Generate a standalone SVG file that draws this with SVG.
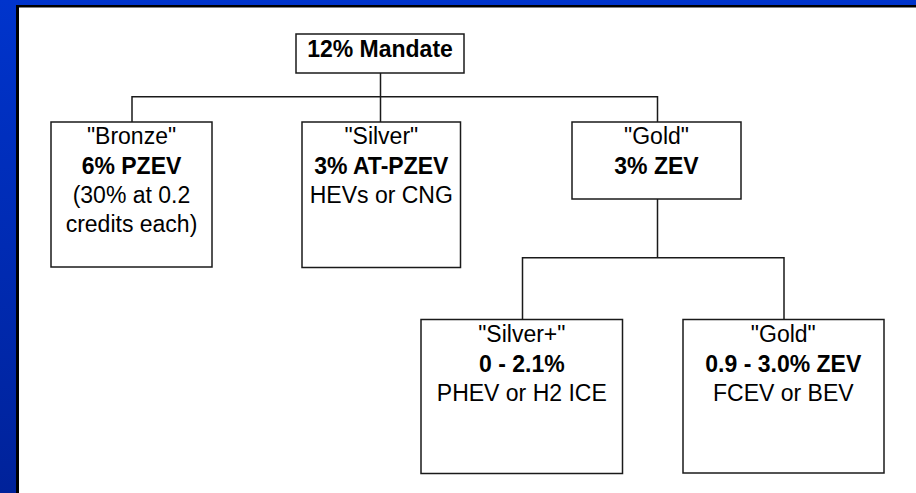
<svg xmlns="http://www.w3.org/2000/svg" width="916" height="493" viewBox="0 0 916 493">
<defs>
<linearGradient id="bg" x1="0" y1="0" x2="0" y2="1">
<stop offset="0" stop-color="#0034CC"/>
<stop offset="1" stop-color="#00229A"/>
</linearGradient>
</defs>
<style>
.box{fill:#fff;stroke:#1a1a1a;stroke-width:1.5}
.ln{fill:none;stroke:#1a1a1a;stroke-width:1.5}
text{font-family:"Liberation Sans",Arial,sans-serif;font-size:23px;fill:#000;text-anchor:middle}
.b{font-weight:bold}
</style>
<rect x="0" y="0" width="916" height="493" fill="url(#bg)"/>
<rect x="16" y="5" width="900" height="488" fill="#000"/>
<rect x="19" y="7.5" width="897" height="485.5" fill="#fff"/>
<g id="connectors">
<path class="ln" d="M380.5 73 V122 M132 122 V96.7 H657.5 V122 M657.5 199 V257.7 M522.5 319.5 V257.7 H784 V319.5"/>
</g>
<g id="mandate">
<rect class="box" x="296" y="34" width="168" height="39"/>
<text class="b" x="380" y="56.5">12% Mandate</text>
</g>
<g id="bronze">
<rect class="box" x="51" y="122" width="161" height="145"/>
<text x="131.5" y="144.3">"Bronze"</text>
<text class="b" x="131.5" y="174">6% PZEV</text>
<text x="131.5" y="203">(30% at 0.2</text>
<text x="131.5" y="232">credits each)</text>
</g>
<g id="silver">
<rect class="box" x="302" y="122" width="158.5" height="145.5"/>
<text x="381.3" y="144.3">"Silver"</text>
<text class="b" x="381.3" y="174">3% AT-PZEV</text>
<text x="381.3" y="203">HEVs or CNG</text>
</g>
<g id="gold">
<rect class="box" x="572" y="122" width="169" height="77"/>
<text x="656.5" y="144.3">"Gold"</text>
<text class="b" x="656.5" y="174">3% ZEV</text>
</g>
<g id="silverplus">
<rect class="box" x="421" y="319.5" width="201.5" height="154"/>
<text x="521.8" y="341.7">"Silver+"</text>
<text class="b" x="521.8" y="371.7">0 - 2.1%</text>
<text x="521.8" y="400.7">PHEV or H2 ICE</text>
</g>
<g id="gold2">
<rect class="box" x="683" y="319.5" width="201" height="153.5"/>
<text x="783.3" y="341.7">"Gold"</text>
<text class="b" x="783.3" y="371.7">0.9 - 3.0% ZEV</text>
<text x="783.3" y="400.7">FCEV or BEV</text>
</g>
</svg>
